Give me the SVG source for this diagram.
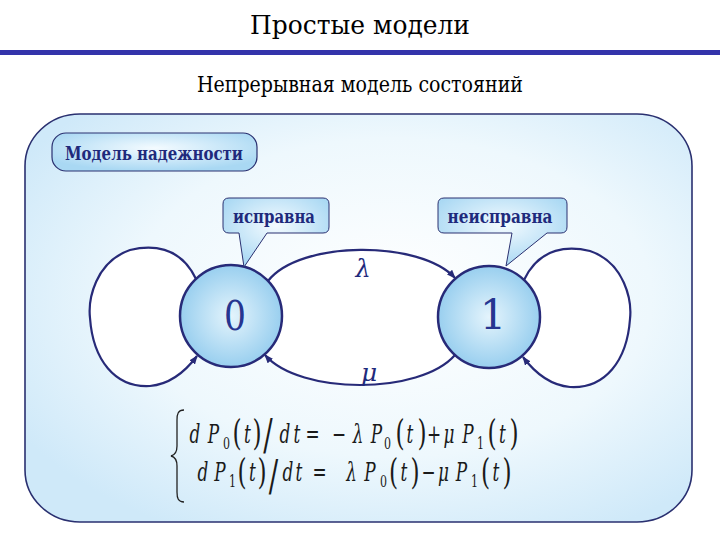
<svg xmlns="http://www.w3.org/2000/svg" width="720" height="540" viewBox="0 0 720 540">
<defs>
<style>
text{font-family:'DejaVu Serif',serif}
.ttl{fill:#000;text-anchor:middle}
.lbl{font-weight:bold;fill:#1f2a7c;text-anchor:middle}
.num{fill:#263590;text-anchor:middle;font-size:41px}
.gr{font-style:italic;fill:#1f2a7c;text-anchor:middle}
.edge{fill:none;stroke:#272a78;stroke-width:2.2}
.f{fill:#1a1a1a;text-anchor:middle}
.i{font-style:italic;font-size:26px}
.u{font-size:26px}
.s{font-size:17px}
.p{font-size:36px}
.sl{font-size:43px}
</style>
<radialGradient id="panelG" cx="55%" cy="45%" r="65%">
<stop offset="0" stop-color="#ffffff"/>
<stop offset="0.6" stop-color="#eef8fd"/>
<stop offset="1" stop-color="#cfe9f9"/>
</radialGradient>
<radialGradient id="nodeG" cx="50%" cy="50%" r="50%">
<stop offset="0" stop-color="#e4f4fc"/>
<stop offset="1" stop-color="#99cfef"/>
</radialGradient>
<radialGradient id="boxG" cx="50%" cy="40%" r="60%">
<stop offset="0" stop-color="#f4fbff"/>
<stop offset="1" stop-color="#a9d8f3"/>
</radialGradient>
<marker id="arr" markerUnits="userSpaceOnUse" markerWidth="9" markerHeight="7" refX="8" refY="3.5" orient="auto">
<path d="M0,0 L9,3.5 L0,7 Z" fill="#272a78"/>
</marker>
</defs>

<rect width="720" height="540" fill="#ffffff"/>
<text class="ttl" x="360" y="34" font-size="26" textLength="220" lengthAdjust="spacingAndGlyphs">Простые модели</text>
<rect x="0" y="50" width="720" height="5" fill="#3333aa"/>
<text class="ttl" x="360" y="92" font-size="23" textLength="326" lengthAdjust="spacingAndGlyphs">Непрерывная модель состояний</text>

<g id="panel">
<rect x="25" y="114" width="667" height="408" rx="55" ry="52" fill="url(#panelG)" stroke="#2a3070" stroke-width="1.6"/>
</g>

<g id="title-box">
<rect x="52" y="133" width="205" height="38" rx="14" fill="url(#boxG)" stroke="#2a3070" stroke-width="1.2"/>
<text class="lbl" x="154" y="160" font-size="18" textLength="178" lengthAdjust="spacingAndGlyphs">Модель надежности</text>
</g>

<g id="connectors">
<path d="M268,281 C300,240 420,240 455,278 L455,355 C420,395 300,395 265,355 Z" fill="#ffffff"/>
<path d="M196,279 C180,245 150,245 130,250 C95,262 88,300 90,318 C93,360 115,388 150,386 C172,384 188,368 197,356 Z" fill="#ffffff"/>
<path d="M524,280 C540,246 570,246 590,251 C625,263 632,301 630,319 C627,361 605,389 570,387 C548,385 532,369 523,357 Z" fill="#ffffff"/>
<path class="edge" d="M268,281 C300,240 420,240 455,278" marker-end="url(#arr)"/>
<path class="edge" d="M455,355 C420,395 300,395 265,355" marker-end="url(#arr)"/>
<path class="edge" d="M196,279 C180,245 150,245 130,250 C95,262 88,300 90,318 C93,360 115,388 150,386 C172,384 188,368 197,356" marker-end="url(#arr)"/>
<path class="edge" d="M524,280 C540,246 570,246 590,251 C625,263 632,301 630,319 C627,361 605,389 570,387 C548,385 532,369 523,357" marker-end="url(#arr)"/>
<text class="gr" x="363" y="277" font-size="24">λ</text>
<text class="gr" x="369" y="381" font-size="25">μ</text>
</g>

<g id="node0">
<circle cx="231" cy="316" r="51" fill="url(#nodeG)" stroke="#272a78" stroke-width="2.5"/>
<text class="num" x="235" y="330" textLength="22" lengthAdjust="spacingAndGlyphs">0</text>
</g>

<g id="node1">
<circle cx="489" cy="317" r="51" fill="url(#nodeG)" stroke="#272a78" stroke-width="2.5"/>
<text class="num" x="493" y="329">1</text>
</g>

<g id="callout0">
<path d="M229,198 H323 Q329,198 329,204 V227 Q329,233 323,233 H267 L244,267 L239,233 H229 Q223,233 223,227 V204 Q223,198 229,198 Z" fill="url(#boxG)" stroke="#2a3070" stroke-width="1"/>
<text class="lbl" x="274" y="223" font-size="19" textLength="82" lengthAdjust="spacingAndGlyphs">исправна</text>
</g>

<g id="callout1">
<path d="M444,198 H561 Q567,198 567,204 V227 Q567,233 561,233 H547 L506,266 L512,233 H444 Q438,233 438,227 V204 Q438,198 444,198 Z" fill="url(#boxG)" stroke="#2a3070" stroke-width="1"/>
<text class="lbl" x="500" y="223" font-size="19" textLength="105" lengthAdjust="spacingAndGlyphs">неисправна</text>
</g>

<g id="equations">
<path d="M184,410 C178,410 177,414 177,420 L177,446 C177,452 175,455 171,456 C175,457 177,460 177,466 L177,492 C177,498 178,502 184,502" fill="none" stroke="#222" stroke-width="1.3"/>
<g transform="scale(0.65,1)">
<text class="f i" x="300" y="443">d</text>
<text class="f i" x="328.46" y="443">P</text>
<text class="f s" x="348.46" y="449">0</text>
<text class="f p" x="364.62" y="445">(</text>
<text class="f i" x="380.77" y="443">t</text>
<text class="f p" x="395.38" y="445">)</text>
<text class="f sl" x="412.31" y="449">/</text>
<text class="f i" x="438.46" y="443">d</text>
<text class="f i" x="456.92" y="443">t</text>
<text class="f u" x="480.77" y="443">=</text>
<text class="f u" x="521.54" y="443">−</text>
<text class="f i" x="550.77" y="443">λ</text>
<text class="f i" x="579.23" y="443">P</text>
<text class="f s" x="596.15" y="449">0</text>
<text class="f p" x="615.38" y="445">(</text>
<text class="f i" x="630.77" y="443">t</text>
<text class="f p" x="649.23" y="445">)</text>
<text class="f u" x="667.69" y="443">+</text>
<text class="f i" x="690.77" y="443">μ</text>
<text class="f i" x="720" y="443">P</text>
<text class="f s" x="739.23" y="449">1</text>
<text class="f p" x="756.92" y="445">(</text>
<text class="f i" x="773.08" y="443">t</text>
<text class="f p" x="790.77" y="445">)</text>

<text class="f i" x="312.31" y="481">d</text>
<text class="f i" x="338.46" y="481">P</text>
<text class="f s" x="357.69" y="487">1</text>
<text class="f p" x="372.31" y="484">(</text>
<text class="f i" x="388.46" y="481">t</text>
<text class="f p" x="403.08" y="484">)</text>
<text class="f sl" x="420.77" y="490">/</text>
<text class="f i" x="443.08" y="481">d</text>
<text class="f i" x="460" y="481">t</text>
<text class="f u" x="491.54" y="481">=</text>
<text class="f i" x="540.77" y="481">λ</text>
<text class="f i" x="569.23" y="481">P</text>
<text class="f s" x="590" y="487">0</text>
<text class="f p" x="605.38" y="484">(</text>
<text class="f i" x="621.54" y="481">t</text>
<text class="f p" x="638.46" y="484">)</text>
<text class="f u" x="659.23" y="481">−</text>
<text class="f i" x="682.31" y="481">μ</text>
<text class="f i" x="710" y="481">P</text>
<text class="f s" x="730" y="487">1</text>
<text class="f p" x="746.92" y="484">(</text>
<text class="f i" x="763.08" y="481">t</text>
<text class="f p" x="780" y="484">)</text>
</g>
</g>
</svg>
